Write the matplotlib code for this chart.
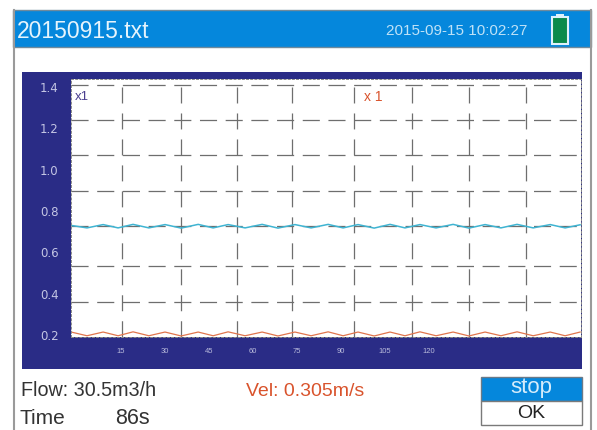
import matplotlib
matplotlib.use('Agg')
import matplotlib.pyplot as plt
from matplotlib.patches import Rectangle

plt.rcParams['lines.scale_dashes'] = False
plt.rcParams['font.family'] = 'Liberation Sans'

y_ticks = [0.2, 0.4, 0.6, 0.8, 1.0, 1.2, 1.4]
y_labels = ['0.2', '0.4', '0.6', '0.8', '1.0', '1.2', '1.4']
x_ticks = [15, 30, 45, 60, 75, 90, 105, 120]
x_labels = ['15', '30', '45', '60', '75', '90', '105', '120']

# grid of the instrument does not sit on the tick labels
grid_h = [1.41, 1.24, 1.071, 0.897, 0.725, 0.534, 0.36]
grid_v = [15.5, 35.5, 54.5, 73.3, 94.4, 114.2, 133.6, 153.1]

t = [-2.0, 3.4, 8.9, 14.0, 19.1, 24.5, 30.0, 35.5, 41.3, 46.4, 51.5, 57.3, 63.1, 68.5, 74.3,
     79.8, 85.6, 90.7, 95.8, 101.3, 106.7, 111.8, 116.9, 122.4, 128.2, 133.6, 139.1, 144.5,
     150.0, 155.5, 161.3, 166.4, 171.5]
flow = [0.73, 0.718, 0.734, 0.718, 0.735, 0.718, 0.734, 0.717, 0.735, 0.718, 0.734, 0.718,
        0.735, 0.717, 0.734, 0.718, 0.735, 0.718, 0.734, 0.717, 0.735, 0.718, 0.734, 0.718,
        0.735, 0.717, 0.734, 0.718, 0.735, 0.718, 0.734, 0.718, 0.733]
vel = [0.214, 0.196, 0.214, 0.196, 0.215, 0.196, 0.214, 0.195, 0.214, 0.196, 0.215, 0.196,
       0.214, 0.195, 0.214, 0.196, 0.215, 0.196, 0.214, 0.195, 0.214, 0.196, 0.215, 0.196,
       0.214, 0.195, 0.214, 0.196, 0.215, 0.196, 0.214, 0.196, 0.214]

NAVY = '#2a2c86'
BLUE = '#0587dc'
ORANGE = '#d9532c'
CYAN = '#3fb4d2'
GRID = '#6e6e6e'
PALE = '#c4c6e4'

fig = plt.figure(figsize=(5.97, 4.30), dpi=100, facecolor='white')

# the screen around the chart, in pixels
bg = fig.add_axes([0, 0, 1, 1])
bg.set_xlim(0, 597)
bg.set_ylim(430, 0)
bg.axis('off')


def box(x0, y0, x1, y1, face, edge='none', lw=0.0):
    bg.add_patch(Rectangle((x0, y0), x1 - x0, y1 - y0, facecolor=face, edgecolor=edge, linewidth=lw))


bg.plot([13.5, 13.5], [10, 430], color='#9a9a9a', lw=1.5)
bg.plot([591, 591], [10, 430], color='#9a9a9a', lw=1.5)
box(13, 10, 591, 47, BLUE, '#6f8a9c', 1.0)
box(22, 72, 582, 369, NAVY)

# battery
box(552, 17, 568, 44, '#0b8a4c', '#dff1fb', 1.5)
box(556, 13.5, 564, 17, '#dff1fb')

# stop / OK buttons
box(481, 377, 582, 401, BLUE, '#6b7a88', 1.0)
box(481, 401, 582, 425, 'white', '#7a7a7a', 1.0)

bg.text(17, 31, '20150915.txt', color='#e6f4fc', fontsize=16.5, va='center')
bg.text(386, 31, '2015-09-15 10:02:27', color='#bfe2f7', fontsize=11, va='center')
bg.text(21, 391, 'Flow: 30.5m3/h', color='#333333', fontsize=14.2, va='center')
bg.text(20, 418, 'Time', color='#333333', fontsize=15, va='center')
bg.text(115, 418, '86s', color='#333333', fontsize=15.5, va='center')
bg.text(246, 391, 'Vel: 0.305m/s', color=ORANGE, fontsize=14, va='center')
bg.text(531, 387.5, 'stop', color='#d5ecfb', fontsize=16, ha='center', va='center')
bg.text(531, 413.5, 'OK', color='#222222', fontsize=14, ha='center', va='center')

# plot area, x 71..581 y 79..337 px
ax = fig.add_axes([71 / 597, 1 - 337 / 430, 510 / 597, 258 / 430], facecolor='white')
ax.set_xlim(-2.05, 171.8)
ax.set_ylim(0.19, 1.4385)

for y in grid_h:
    ax.plot([-2.05, 171.8], [y, y], color=GRID, lw=0.9, dashes=(12.3, 6.2))
for x in grid_v:
    ax.plot([x, x], [1.4, 0.19], color=GRID, lw=0.9, dashes=(11.5, 7.2))

ax.plot(t, flow, color=CYAN, lw=1.1)
ax.plot(t, vel, color='#e0764e', lw=0.9)

ax.text(75, 97, 'x1', color='#4a3f8f', fontsize=9.5, va='center', transform=bg.transData)
ax.text(364, 97, 'x 1', color=ORANGE, fontsize=10, va='center', transform=bg.transData)

ax.set_xticks(x_ticks, x_labels, color='#b9bbdc', fontsize=5.5)
ax.set_yticks(y_ticks, y_labels, color=PALE, fontsize=8.5, family='DejaVu Sans')
ax.tick_params(axis='x', length=0, pad=8)
ax.tick_params(axis='y', length=0, pad=9)
for s in ax.spines.values():
    s.set_color('#8a8a8a')
    s.set_linewidth(0.7)
    s.set_linestyle((0, (1.5, 1.5)))

fig.savefig('out.png', dpi=100)
